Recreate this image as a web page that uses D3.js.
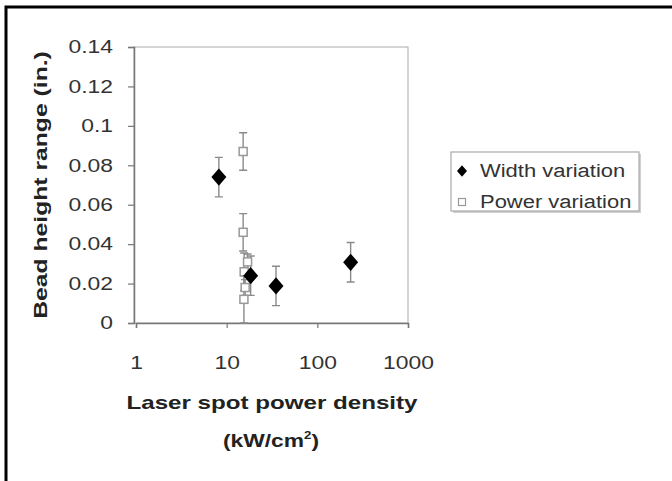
<!DOCTYPE html>
<html>
<head>
<meta charset="utf-8">
<script src="https://cdn.jsdelivr.net/npm/d3@7"></script>
<style>
  body { margin: 0; background: #fff; }
  text { font-family: "Liberation Sans", Arial, sans-serif; }
</style>
</head>
<body>
<div id="chart"></div>
<script>
// values
const xTicks = [1, 10, 100, 1000];
const yTicks = [0, 0.02, 0.04, 0.06, 0.08, 0.1, 0.12, 0.14];

const widthX = [8.2, 18.4, 35, 233];
const widthY = [0.074, 0.024, 0.0188, 0.0308];
const widthErr = [0.01, 0.01, 0.01, 0.01];

const powerX = [15.2, 15.2, 15.6, 17, 16, 15.5];
const powerY = [0.087, 0.046, 0.026, 0.031, 0.018, 0.012];
const powerErr = [0.0095, 0.0095, 0.0095, 0.004, 0.004, 0.012];

const seriesNames = ['Width variation', 'Power variation'];

const W = 672, H = 481;
const plot = {left: 134, right: 408, top: 47, bottom: 323};
const stretchK = 1.27;

const svg = d3.select('#chart').append('svg')
    .attr('width', W)
    .attr('height', H);

// outer frame (top and left only, as in the scan)
svg.append('path')
    .attr('d', 'M6,481 V7 H672')
    .attr('fill', 'none')
    .attr('stroke', '#000')
    .attr('stroke-width', 3);

const x = d3.scaleLog()
    .domain([1, 1000])
    .range([plot.left + 2, plot.right]);

const y = d3.scaleLinear()
    .domain([0, 0.14])
    .range([plot.bottom, plot.top]);

// widen text a bit, the scanned type is broad
function stretch(sel, k) {
  sel.each(function() {
    const w = this.getComputedTextLength();
    d3.select(this)
        .attr('textLength', w * k)
        .attr('lengthAdjust', 'spacingAndGlyphs');
  });
}

// plot area frame
svg.append('rect')
    .attr('x', plot.left)
    .attr('y', plot.top)
    .attr('width', plot.right - plot.left)
    .attr('height', plot.bottom - plot.top)
    .attr('fill', 'none')
    .attr('stroke', '#b8b8b8')
    .attr('stroke-width', 1.2);

const yAxis = svg.append('g')
    .attr('transform', 'translate(' + plot.left + ',0)')
    .call(d3.axisLeft(y)
      .tickValues(yTicks)
      .tickSize(6)
      .tickPadding(15)
      .tickFormat(d => d === 0 ? '0' : String(+d.toFixed(2))));

const xAxis = svg.append('g')
    .attr('transform', 'translate(0,' + plot.bottom + ')')
    .call(d3.axisBottom(x)
      .tickValues(xTicks)
      .tickSize(5)
      .tickPadding(28)
      .tickFormat(d => String(d)));

[yAxis, xAxis].forEach(ax => {
  ax.select('.domain').attr('stroke', '#777').attr('stroke-width', 1.5);
  ax.selectAll('.tick line').attr('stroke', '#777').attr('stroke-width', 1.2);
  ax.selectAll('.tick text')
      .attr('fill', '#333')
      .style('font-size', '18px')
      .style('font-family', '"Liberation Sans", Arial, sans-serif')
      .call(stretch, stretchK);
});

// axis titles
svg.append('text')
    .attr('x', 272)
    .attr('y', 409)
    .attr('text-anchor', 'middle')
    .attr('fill', '#222')
    .style('font-size', '19px')
    .style('font-weight', 'bold')
    .text('Laser spot power density')
    .call(stretch, stretchK);

const unit = svg.append('text')
    .attr('x', 271)
    .attr('y', 447)
    .attr('text-anchor', 'middle')
    .attr('fill', '#222')
    .style('font-size', '19px')
    .style('font-weight', 'bold');
unit.append('tspan').text('(kW/cm');
unit.append('tspan').attr('dy', -8).style('font-size', '11px').text('2');
unit.append('tspan').attr('dy', 8).text(')');
unit.call(stretch, 1.2);

svg.append('text')
    .attr('transform', 'translate(47,185) rotate(-90)')
    .attr('text-anchor', 'middle')
    .attr('fill', '#222')
    .style('font-size', '19px')
    .style('font-weight', 'bold')
    .text('Bead height range (in.)')
    .call(stretch, 1.3);

const widthData = widthX.map((v, i) => ({x: v, y: widthY[i], e: widthErr[i]}));
const powerData = powerX.map((v, i) => ({x: v, y: powerY[i], e: powerErr[i]}));

function errorBars(data) {
  const g = svg.append('g')
      .attr('stroke', '#8a8a8a')
      .attr('stroke-width', 1.4)
      .attr('fill', 'none');
  g.selectAll('path')
    .data(data)
    .enter().append('path')
      .attr('d', d => {
        const cx = x(d.x),
              lo = y(Math.max(0, d.y - d.e)),
              hi = y(d.y + d.e);
        return 'M' + (cx - 4) + ',' + hi + 'H' + (cx + 4) +
               'M' + cx + ',' + hi + 'V' + lo +
               'M' + (cx - 4) + ',' + lo + 'H' + (cx + 4);
      });
}

errorBars(powerData);
errorBars(widthData);

function diamond(r) {
  return 'M0,' + (-r * 1.15) + 'L' + r + ',0L0,' + (r * 1.15) + 'L' + (-r) + ',0Z';
}

svg.append('g')
  .selectAll('rect')
    .data(powerData)
  .enter().append('rect')
    .attr('x', d => x(d.x) - 4)
    .attr('y', d => y(d.y) - 4)
    .attr('width', 8)
    .attr('height', 8)
    .attr('fill', '#fff')
    .attr('stroke', '#999')
    .attr('stroke-width', 1.5);

svg.append('g')
  .selectAll('path')
    .data(widthData)
  .enter().append('path')
    .attr('transform', d => 'translate(' + x(d.x) + ',' + y(d.y) + ')')
    .attr('d', diamond(7.5))
    .attr('fill', '#000');

// legend
const legend = svg.append('g')
    .attr('class', 'legend');

legend.append('rect')
    .attr('x', 453)
    .attr('y', 154)
    .attr('width', 188)
    .attr('height', 59)
    .attr('fill', '#d0d0d0');

legend.append('rect')
    .attr('x', 451)
    .attr('y', 152)
    .attr('width', 188)
    .attr('height', 59)
    .attr('fill', '#fff')
    .attr('stroke', '#aaa')
    .attr('stroke-width', 1.2);

const rows = legend.selectAll('g.row')
    .data(seriesNames)
  .enter().append('g')
    .attr('class', 'row')
    .attr('transform', (d, i) => 'translate(462,' + (171 + i * 31) + ')');

rows.filter((d, i) => i === 0).append('path')
    .attr('d', diamond(5))
    .attr('fill', '#000');

rows.filter((d, i) => i === 1).append('rect')
    .attr('x', -3.5)
    .attr('y', -3.5)
    .attr('width', 7)
    .attr('height', 7)
    .attr('fill', '#fff')
    .attr('stroke', '#999')
    .attr('stroke-width', 1.2);

rows.append('text')
    .attr('x', 18)
    .attr('y', 6)
    .attr('fill', '#333')
    .style('font-size', '18px')
    .text(d => d)
    .call(stretch, 1.22);
</script>
</body>
</html>
